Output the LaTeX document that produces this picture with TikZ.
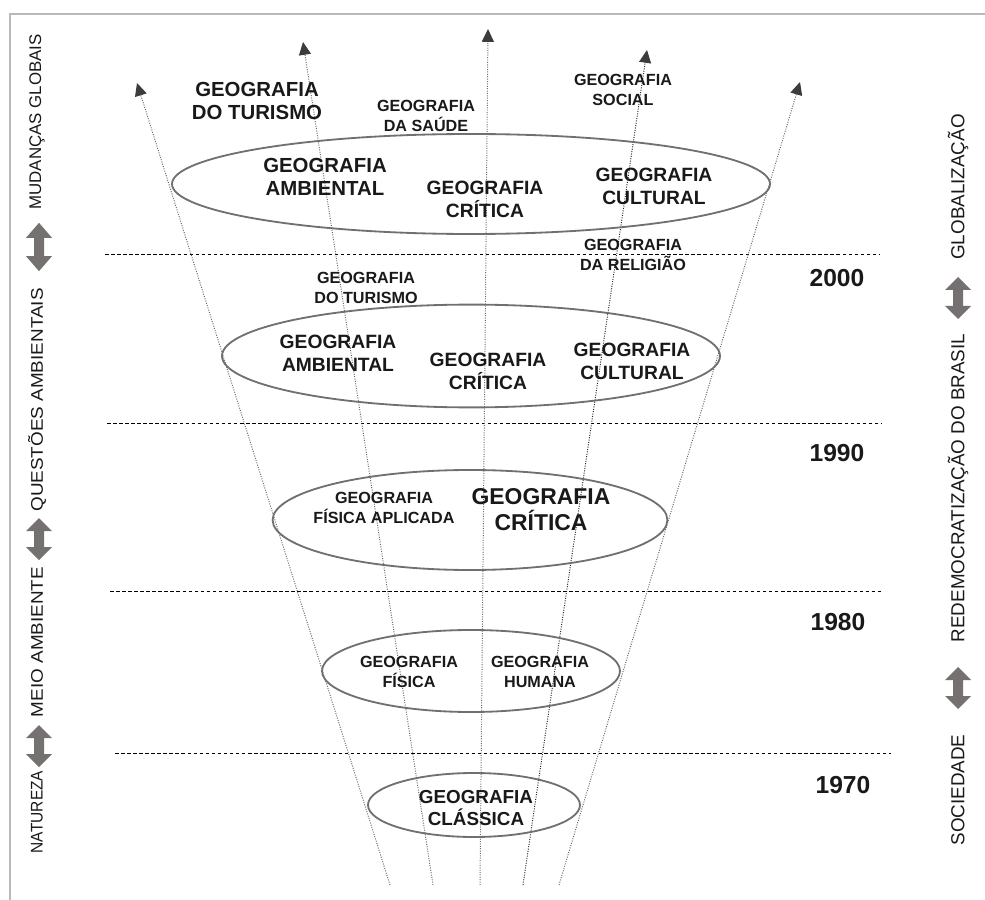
\documentclass[tikz,border=0pt]{standalone}
\usepackage{fontspec}
\setmainfont{Liberation Sans}
\usetikzlibrary{arrows.meta, shapes.geometric}
\definecolor{framegray}{RGB}{185, 185, 185}
\definecolor{ringgray}{RGB}{112, 112, 112}
\definecolor{rodgray}{RGB}{105, 105, 105}
\definecolor{tipgray}{RGB}{60, 60, 60}
\definecolor{blockgray}{RGB}{118, 113, 113}
\definecolor{textblack}{RGB}{25, 25, 25}

\tikzset{
    dblarrow/.pic={
        \fill[blockgray] (0,-21) -- (13,-8) -- (5,-8) -- (5,8) -- (13,8)
            -- (0,21) -- (-13,8) -- (-5,8) -- (-5,-8) -- (-13,-8) -- cycle;
    }
}

\begin{document}
\begin{tikzpicture}[x=0.25mm, y=-0.25mm,
    era/.style={draw=ringgray, ellipse, line width=1.3pt, inner sep=0},
    rod/.style={rodgray, densely dotted, line width=0.7pt,
                -{Triangle[length=3.2mm, width=3mm, color=tipgray]}},
    divider/.style={black, line width=0.5pt, dash pattern=on 2.5pt off 1.8pt},
    subtxt/.style={font=\bfseries\fontsize{11.5}{14.2}\selectfont, align=center,
                   inner sep=0, text=textblack},
    midtxt/.style={font=\bfseries\fontsize{13.7}{16.4}\selectfont, align=center,
                   inner sep=0, text=textblack},
    fieldtxt/.style={font=\bfseries\fontsize{14.5}{16.2}\selectfont, align=center,
                     inner sep=0, text=textblack},
    bigtxt/.style={font=\bfseries\fontsize{16.3}{18.5}\selectfont, align=center,
                   inner sep=0, text=textblack},
    classtxt/.style={font=\bfseries\fontsize{13.4}{15.6}\selectfont, align=center,
                     inner sep=0, text=textblack},
    yeartxt/.style={font=\bfseries\fontsize{17.5}{20}\selectfont, inner sep=0,
                    text=textblack},
    lefttxt/.style={font=\fontsize{12}{14}\selectfont, rotate=90, inner sep=0,
                    text=textblack},
    righttxt/.style={font=\fontsize{13.4}{15}\selectfont, rotate=90, inner sep=0,
                     text=textblack}
]
    \useasboundingbox (0,0) rectangle (985,900);

    % Frame
    \draw[framegray, line width=1pt] (10,900) -- (10,14) -- (985,14);

    % Decade dividers
    \draw[divider] (105,254) -- (880,254);
    \draw[divider] (107,423) -- (882,423);
    \draw[divider] (110,591) -- (883,591);
    \draw[divider] (115,753) -- (891,753);

    % Rods
    \foreach \i/\bx/\tx/\ty/\shade in {1/390/137/83/rodgray, 2/433/303/42/rodgray,
                                       3/480/488/29/rodgray, 4/523/647/50/black!85,
                                       5/559/800/82/rodgray} {
        \coordinate (base\i) at (\bx,885);
        \coordinate (tip\i) at (\tx,\ty);
        \draw[rod, draw=\shade] (base\i) -- (tip\i);
    }

    % Ellipses
    \node[era, minimum width=149.5mm, minimum height=25mm] (era2010) at (471,184) {};
    \node[era, minimum width=124.5mm, minimum height=25.7mm] (era2000) at (471,356) {};
    \node[era, minimum width=98.7mm, minimum height=25mm] (era1990) at (470,520) {};
    \node[era, minimum width=74.5mm, minimum height=20.5mm] (era1980) at (471,671) {};
    \node[era, minimum width=53mm, minimum height=16mm] (era1970) at (474,805) {};

    % Top tier
    \node[fieldtxt] (turismoA) at (257,101) {GEOGRAFIA\\DO TURISMO};
    \node[subtxt] (saude) at (426,116) {GEOGRAFIA\\DA SAÚDE};
    \node[subtxt] (social) at (623,90) {GEOGRAFIA\\SOCIAL};
    \node[fieldtxt] (ambientalA) at (325,177) {GEOGRAFIA\\AMBIENTAL};
    \node[midtxt] (criticaA) at (485,199) {GEOGRAFIA\\CRÍTICA};
    \node[midtxt] (culturalA) at (654,186) {GEOGRAFIA\\CULTURAL};
    \node[subtxt] (religiao) at (633,255) {GEOGRAFIA\\DA RELIGIÃO};

    % 2000
    \node[subtxt] (turismoB) at (366,288) {GEOGRAFIA\\DO TURISMO};
    \node[midtxt] (ambientalB) at (338,353) {GEOGRAFIA\\AMBIENTAL};
    \node[midtxt] (criticaB) at (488,371) {GEOGRAFIA\\CRÍTICA};
    \node[midtxt] (culturalB) at (632,361) {GEOGRAFIA\\CULTURAL};

    % 1990
    \node[subtxt] (aplicada) at (384,508) {GEOGRAFIA\\FÍSICA APLICADA};
    \node[bigtxt] (criticaC) at (541,510) {GEOGRAFIA\\CRÍTICA};

    % 1980
    \node[subtxt] (fisica) at (409,672) {GEOGRAFIA\\FÍSICA};
    \node[subtxt] (humana) at (540,672) {GEOGRAFIA\\HUMANA};

    % 1970
    \node[classtxt] (classica) at (476,808) {GEOGRAFIA\\CLÁSSICA};

    % Years
    \node[yeartxt] (y2000) at (837,278) {2000};
    \node[yeartxt] (y1990) at (837,453) {1990};
    \node[yeartxt] (y1980) at (838,622) {1980};
    \node[yeartxt] (y1970) at (843,785) {1970};

    % Left column
    \node[lefttxt] (globais) at (37,122) {MUDANÇAS GLOBAIS};
    \node[lefttxt, xscale=1.12] (questoes) at (37,400) {QUESTÕES AMBIENTAIS};
    \node[lefttxt, xscale=1.12] (meio) at (37,642) {MEIO AMBIENTE};
    \node[lefttxt, xscale=0.92] (natureza) at (37,812) {NATUREZA};
    \pic[yscale=1.15] (arrL1) at (39,247) {dblarrow};
    \pic (arrL2) at (39,539) {dblarrow};
    \pic (arrL3) at (39,746) {dblarrow};

    % Right column
    \node[righttxt] (globalizacao) at (958,187) {GLOBALIZAÇÃO};
    \node[righttxt] (redemo) at (958,488) {REDEMOCRATIZAÇÃO DO BRASIL};
    \node[righttxt] (sociedade) at (958,790) {SOCIEDADE};
    \pic (arrR1) at (958,298) {dblarrow};
    \pic (arrR2) at (958,688) {dblarrow};
\end{tikzpicture}
\end{document}
